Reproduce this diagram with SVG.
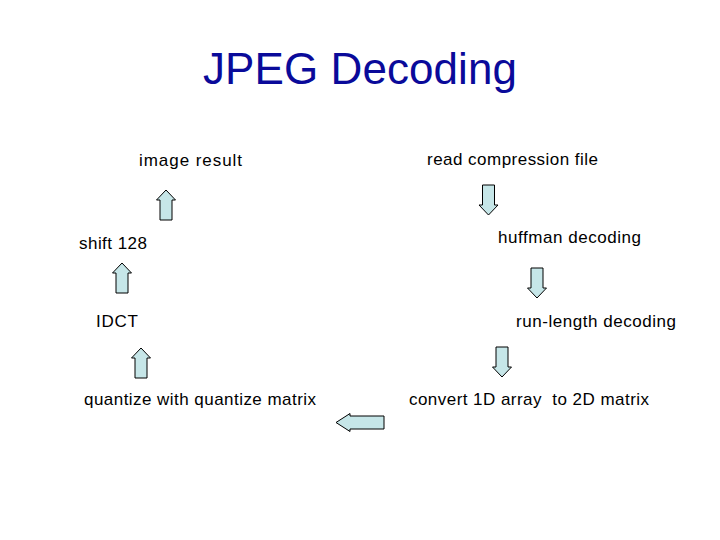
<svg xmlns="http://www.w3.org/2000/svg" width="720" height="540" viewBox="0 0 720 540">
<style>
text{font-family:"Liberation Sans",Arial,sans-serif;fill:#000;font-size:17px;white-space:pre}
.t{font-size:44px;fill:#0a0a9a}
.a{fill:#c6e6e8;stroke:#000;stroke-width:1}
</style>
<defs>
<path id="dn" d="M-6,0H6V20H9.5L0,30L-9.5,20H-6Z"/>
</defs>
<rect width="720" height="540" fill="#fff"/>
<text class="t" x="203" y="84" textLength="314">JPEG Decoding</text>
<g id="n1"><text x="139" y="166" font-size="18" textLength="103">image result</text></g>
<g id="n2"><text x="79" y="249" textLength="68">shift 128</text></g>
<g id="n3"><text x="96" y="327" textLength="42">IDCT</text></g>
<g id="n4"><text x="84" y="405" textLength="232">quantize with quantize matrix</text></g>
<g id="n5"><text x="427" y="165" textLength="171">read compression file</text></g>
<g id="n6"><text x="498" y="243" textLength="143">huffman decoding</text></g>
<g id="n7"><text x="516" y="327" textLength="160">run-length decoding</text></g>
<g id="n8"><text x="409" y="405" textLength="240">convert 1D array  to 2D matrix</text></g>
<g id="connectors">
<use href="#dn" class="a" transform="translate(488.5,185)"/>
<use href="#dn" class="a" transform="translate(537,268)"/>
<use href="#dn" class="a" transform="translate(502,347)"/>
<path class="a" d="M384,416V429H350V431.5L336,422.5L350,413.5V416Z"/>
<use href="#dn" class="a" transform="translate(141,378) scale(1,-1)"/>
<use href="#dn" class="a" transform="translate(122,293) scale(1,-1)"/>
<use href="#dn" class="a" transform="translate(166,220) scale(1,-1)"/>
</g>
</svg>
